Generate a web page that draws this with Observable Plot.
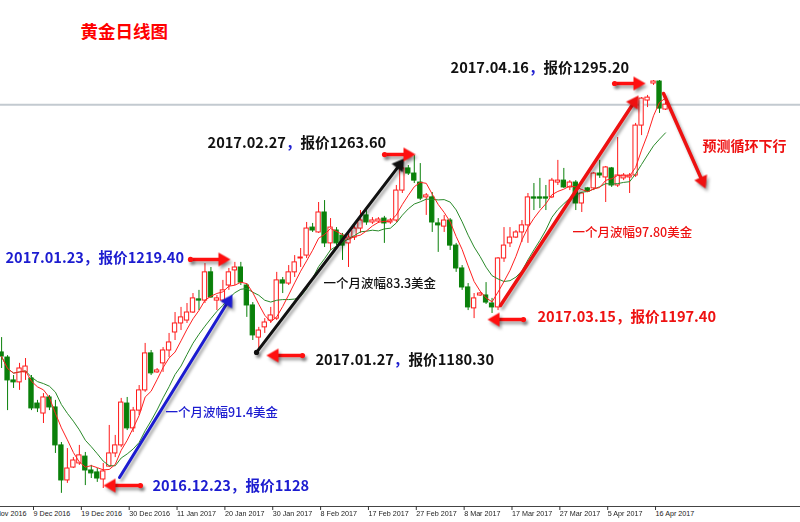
<!DOCTYPE html>
<html><head><meta charset="utf-8">
<script src="https://cdn.jsdelivr.net/npm/d3@7"></script>
<script src="https://cdn.jsdelivr.net/npm/@observablehq/plot@0.6"></script>
<style>
html,body{margin:0;padding:0;background:#fff;}
#chart svg{display:block;}
g[aria-description="shadowed"]{filter:drop-shadow(2px 3px 1.5px rgba(0,0,0,0.35));}
</style></head><body><div id="chart"></div>
<script>
// ---- data: daily gold bars (index 0 = 4 Dec 2016 ... 111 = 18 Apr 2017) ----
const opens = [1183.9,1181.8,1172.4,1171.6,1175.7,1173.2,1162.9,1158.8,1165.4,1161.3,1145.7,1131.3,1136.6,1138.3,1141.1,1135.4,1134.6,1131.7,1137.0,1142.4,
1145.7,1162.9,1152.7,1160.0,1168.3,1183.5,1175.7,1179.4,1184.7,1192.1,1195.8,1197.0,1200.3,1205.7,1205.2,1216.8,1205.2,1205.2,1211.4,1217.6,
1218.8,1211.4,1203.2,1190.0,1194.2,1197.0,1197.8,1213.5,1212.2,1216.8,1222.5,1223.7,1235.2,1233.2,1241.4,1228.7,1234.0,1231.9,1228.7,1231.1,
1234.8,1240.2,1237.3,1237.7,1238.9,1237.3,1238.1,1250.4,1259.5,1257.4,1253.7,1247.6,1247.6,1236.9,1235.6,1238.1,1227.8,1218.4,1210.6,1202.0,
1207.3,1207.3,1204.0,1202.4,1222.5,1228.7,1231.1,1233.2,1236.1,1247.6,1247.6,1247.6,1247.6,1253.7,1254.5,1251.7,1253.7,1245.1,1251.3,1251.3,
1257.4,1255.8,1259.5,1252.5,1255.4,1255.8,1256.6,1277.1,1287.4,1294.4,1295.2,1283.7];
const highs = [1190.0,1182.6,1174.4,1179.4,1181.4,1174.4,1164.2,1167.0,1166.2,1164.2,1146.9,1144.4,1140.7,1145.7,1142.8,1137.5,1136.2,1138.3,1153.9,1149.8,
1165.0,1165.4,1161.3,1170.3,1187.6,1184.7,1177.3,1185.9,1191.7,1200.3,1202.4,1204.0,1208.1,1209.4,1220.4,1218.8,1207.3,1213.5,1218.4,1220.9,
1220.9,1212.2,1204.4,1194.2,1197.8,1202.4,1216.8,1214.7,1219.6,1223.7,1226.6,1237.3,1236.9,1245.5,1246.3,1238.9,1235.2,1232.8,1234.0,1236.1,
1242.2,1243.4,1239.3,1239.3,1239.8,1238.9,1252.5,1261.9,1260.7,1264.8,1261.5,1249.2,1249.6,1238.9,1240.2,1238.9,1228.7,1219.6,1212.2,1208.1,
1208.5,1212.6,1206.1,1222.9,1235.2,1235.2,1234.0,1238.1,1249.2,1253.3,1255.4,1252.5,1255.4,1262.8,1259.5,1254.5,1254.5,1249.6,1251.7,1257.8,
1262.8,1260.3,1259.9,1272.2,1257.4,1257.4,1278.0,1288.6,1289.5,1295.6,1295.6,1286.6];
const lows = [1177.3,1160.0,1169.1,1168.3,1172.4,1160.0,1159.2,1154.7,1160.0,1142.4,1126.0,1130.1,1136.2,1137.5,1129.2,1132.1,1130.5,1128.0,1136.6,1140.7,
1144.8,1151.8,1151.0,1158.0,1167.5,1174.4,1175.3,1175.7,1181.8,1188.8,1192.9,1195.8,1199.9,1201.1,1204.0,1206.1,1201.1,1204.4,1209.4,1211.4,
1211.4,1198.3,1188.8,1184.7,1191.7,1195.8,1197.0,1208.1,1211.4,1214.7,1218.8,1222.5,1233.2,1232.8,1227.0,1225.8,1227.8,1221.7,1218.8,1229.9,
1232.8,1236.1,1236.5,1236.9,1228.7,1236.5,1237.3,1249.2,1256.6,1253.3,1246.3,1240.2,1233.2,1225.0,1233.2,1225.8,1216.8,1209.4,1201.1,1197.8,
1206.9,1203.6,1199.9,1201.1,1220.9,1227.0,1230.7,1229.1,1228.7,1242.2,1243.0,1242.2,1247.1,1252.5,1251.3,1250.4,1242.2,1241.4,1249.6,1250.4,
1255.4,1245.5,1251.7,1251.7,1254.5,1249.2,1255.8,1273.0,1284.5,1293.6,1282.1,1283.3];
const closes = [1182.2,1172.4,1171.6,1177.3,1178.1,1160.9,1160.9,1165.4,1161.3,1145.7,1131.3,1136.2,1139.5,1141.6,1135.4,1134.2,1132.1,1135.0,1142.4,1145.7,
1163.3,1152.7,1160.0,1168.3,1183.5,1175.3,1176.5,1184.7,1188.0,1195.8,1198.3,1200.3,1206.1,1205.2,1216.8,1206.5,1206.1,1209.4,1216.8,1218.8,
1212.6,1203.2,1190.9,1192.9,1196.2,1199.1,1213.5,1212.2,1216.8,1220.9,1222.9,1234.8,1234.0,1241.4,1228.7,1235.2,1228.7,1227.8,1231.1,1234.8,
1238.1,1237.3,1238.1,1238.5,1236.9,1238.1,1250.4,1259.5,1257.4,1254.5,1247.1,1248.4,1237.3,1236.1,1238.1,1227.8,1218.4,1210.6,1202.4,1206.1,
1208.1,1204.4,1202.4,1222.5,1227.8,1231.1,1233.2,1236.1,1247.6,1247.1,1247.1,1247.1,1254.5,1254.5,1251.7,1253.7,1245.1,1249.2,1250.0,1257.4,
1256.6,1259.9,1252.5,1256.6,1256.6,1256.6,1277.1,1288.2,1288.6,1295.2,1284.1,1285.7];

const tickBars = [-3,5,13,21,29,37,45,53,61,69,77,85,93,101,109];
const tickLabels = ["30 Nov 2016","9 Dec 2016","19 Dec 2016","30 Dec 2016","11 Jan 2017","20 Jan 2017","30 Jan 2017",
  "8 Feb 2017","17 Feb 2017","27 Feb 2017","8 Mar 2017","17 Mar 2017","27 Mar 2017","5 Apr 2017","16 Apr 2017"];

// annotations, in (bar index, price) coordinates
const priceNotes = [
  {i: 75.06, p: 1300.6, text: "2017.04.16，报价1295.20", tone: "black"},
  {i: 34.43, p: 1269.7, text: "2017.02.27，报价1263.60", tone: "black"},
  {i: 0.65,  p: 1222.5, text: "2017.01.23，报价1219.40", tone: "blue"},
  {i: 52.48, p: 1180.6, text: "2017.01.27，报价1180.30", tone: "black"},
  {i: 89.6,  p: 1198.3, text: "2017.03.15，报价1197.40", tone: "red"},
  {i: 25.23, p: 1128.8, text: "2016.12.23，报价1128", tone: "blue"}
];
const swingNotes = [
  {i: 27.4,  p: 1159.2, text: "一个月波幅91.4美金", tone: "blue"},
  {i: 53.82, p: 1212.2, text: "一个月波幅83.3美金", tone: "black"},
  {i: 95.45, p: 1232.8, text: "一个月波幅97.80美金", tone: "red"}
];
const forecastNote = [{i: 117.19, p: 1268.5, text: "预测循环下行"}];
const titleNote = [{i: 13.19, p: 1315.4, text: "黄金日线图"}];
const trendArrows = [
  {i1: 19.71, p1: 1132.5, i2: 37.9,   p2: 1204.9, tone: "blue",  dot: false},
  {i1: 42.62, p1: 1183.9, i2: 66.55,  p2: 1261.0, tone: "black", dot: true},
  {i1: 83.41, p1: 1203.2, i2: 105.75, p2: 1286.7, tone: "red",   dot: false},
  {i1: 110.67,p1: 1290.3, i2: 117.16, p2: 1254.3, tone: "red",   dot: false}
];
const pointers = [
  {i1: 102.48, i2: 106.32, p: 1294.4},
  {i1: 64.02,  i2: 67.87,  p: 1265.2},
  {i1: 31.58,  i2: 36.93,  p: 1222.1},
  {i1: 50.31,  i2: 45.63,  p: 1182.6},
  {i1: 87.26,  i2: 82.58,  p: 1197.4},
  {i1: 23.22,  i2: 18.38,  p: 1129.2}
];

// ---- build ----
const W = 800, H = 522, MB = 16;
const xDomain = [-0.183, 133.57];
const yDomain = [1120.6, 1328.5];
const UP = "#ff1a1a", DOWN = "#0a800a";
const toneColor = {black: "#111111", blue: "#1c1cd0", red: "#ee1111"};
const commaColor = {black: "#1c1cd0", blue: "#1c1cd0", red: "#ee1111"};
const CJK = "'Noto Sans CJK SC', 'Noto Sans', sans-serif";

const bars = opens.map((o, i) => ({i, open: o, high: highs[i], low: lows[i], close: closes[i], up: closes[i] >= o}));
const lastClose = closes[closes.length - 1];

const sx = Plot.scale({x: {domain: xDomain, range: [0, W]}});
const sy = Plot.scale({y: {domain: yDomain, range: [H - MB, 0]}});
const angle = (i1, p1, i2, p2) => {
  const dx = sx.apply(i2) - sx.apply(i1), dy = sy.apply(p2) - sy.apply(p1);
  return Math.atan2(dx, -dy) * 180 / Math.PI;
};
const links = [
  ...trendArrows.map(a => ({...a, color: toneColor[a.tone], w: a.tone === "red" ? 3.5 : 3})),
  ...pointers.map(a => ({i1: a.i1, p1: a.p, i2: a.i2, p2: a.p, color: "#ff1010", w: 3.5, dot: true}))
];
const heads = links.map(a => ({i: a.i2, p: a.p2, color: a.color, rot: angle(a.i1, a.p1, a.i2, a.p2)}));
const startDots = links.filter(a => a.dot).map(a => ({i: a.i1, p: a.p1, color: a.color}));

const chart = Plot.plot({
  width: W, height: H,
  marginTop: 0, marginRight: 0, marginLeft: 0, marginBottom: MB,
  style: {background: "#fff", overflow: "hidden"},
  x: {domain: xDomain},
  y: {domain: yDomain, axis: null},
  marks: [
    Plot.ruleY([lastClose], {stroke: "#c3cad0", strokeWidth: 2}),
    Plot.ruleX(bars, {x: "i", y1: "low", y2: "high", stroke: d => d.up ? UP : DOWN, strokeWidth: 1}),
    Plot.rect(bars, {x1: d => d.i - 0.36, x2: d => d.i + 0.36, y1: "open", y2: "close",
      fill: d => d.up ? "#fff" : DOWN, stroke: d => d.up ? UP : DOWN, strokeWidth: 1}),
    Plot.lineY(bars, Plot.windowY({k: 10, anchor: "end"}, {x: "i", y: "close", stroke: "#2a8a2a", strokeWidth: 1})),
    Plot.lineY(bars, Plot.windowY({k: 5, anchor: "end"}, {x: "i", y: "close", stroke: "#ff2020", strokeWidth: 1})),
    Plot.link(links, {x1: "i1", y1: "p1", x2: "i2", y2: "p2", stroke: "color", strokeWidth: "w",
      strokeLinecap: "round", ariaDescription: "shadowed"}),
    Plot.dot(heads, {x: "i", y: "p", symbol: "triangle", r: 5.2, fill: "color", stroke: null, rotate: "rot", ariaDescription: "shadowed"}),
    Plot.dot(startDots, {x: "i", y: "p", r: 2.6, fill: "color", stroke: null, ariaDescription: "shadowed"}),
    Plot.text(titleNote, {x: "i", y: "p", text: "text", textAnchor: "start", lineAnchor: "middle",
      fill: "#ff0000", fontSize: 17.5, fontWeight: "bold", fontFamily: CJK}),
    Plot.text(priceNotes, {x: "i", y: "p", text: "text", textAnchor: "start", lineAnchor: "middle",
      fill: d => toneColor[d.tone], fontSize: 14.6, fontWeight: "bold", fontFamily: CJK, ariaDescription: "price-notes"}),
    Plot.text(swingNotes, {x: "i", y: "p", text: "text", textAnchor: "start", lineAnchor: "middle",
      fill: d => toneColor[d.tone], fontSize: 12.5, fontWeight: 500, fontFamily: CJK}),
    Plot.text(forecastNote, {x: "i", y: "p", text: "text", textAnchor: "start", lineAnchor: "middle",
      fill: "#ee1111", fontSize: 14, fontWeight: "bold", fontFamily: CJK}),
    Plot.ruleY([yDomain[0]], {stroke: "#444", strokeWidth: 1}),
    Plot.axisX({ticks: tickBars, tickFormat: d => tickLabels[tickBars.indexOf(d)], tickSize: 4, tickPadding: 0,
      textAnchor: "start", dx: 2, fontSize: 7.2, fontFamily: "'Liberation Sans', Arial, sans-serif",
      stroke: "#333", fill: "#222", label: null})
  ]
});
document.getElementById("chart").appendChild(chart);

// colour the comma of each price note
const noteTexts = chart.querySelectorAll('g[aria-description="price-notes"] text');
noteTexts.forEach((el, k) => {
  const note = priceNotes[k];
  if (!note) return;
  const [a, b] = note.text.split("，");
  el.textContent = "";
  const ns = "http://www.w3.org/2000/svg";
  const t1 = document.createElementNS(ns, "tspan"); t1.textContent = a;
  const t2 = document.createElementNS(ns, "tspan"); t2.textContent = "，"; t2.setAttribute("fill", commaColor[note.tone]);
  const t3 = document.createElementNS(ns, "tspan"); t3.textContent = b;
  el.append(t1, t2, t3);
});
</script></body></html>
